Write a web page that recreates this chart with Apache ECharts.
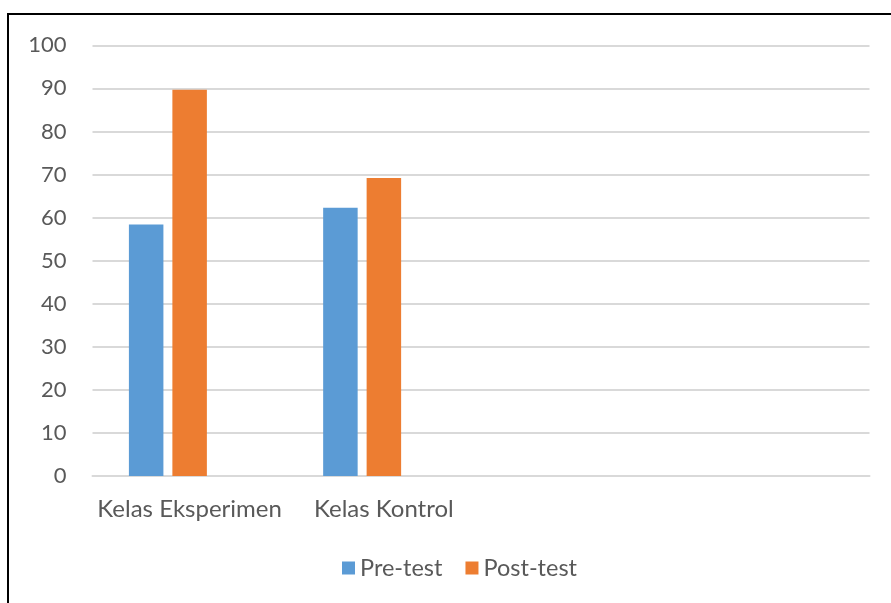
<!DOCTYPE html>
<html>
<head>
<meta charset="utf-8">
<style>
  html, body { margin: 0; padding: 0; background: #ffffff; }
  #chart { width: 891px; height: 603px; }
</style>
<script src="https://cdn.jsdelivr.net/npm/echarts@6/dist/echarts.min.js"></script>
</head>
<body>
<div id="chart"></div>
<script>
// Category names (the last two slots are unused in the workbook)
const categories = ['Kelas Eksperimen', 'Kelas Kontrol', '', ''];
// Mean scores per class
const preTest = [58.4, 62.3, '-', '-'];
const postTest = [89.7, 69.2, '-', '-'];
// Third, empty series kept from the source spreadsheet
const series3 = ['-', '-', '-', '-'];
// Value axis ticks
const yMin = 0, yMax = 100, yStep = 10;

const textColor = '#595959';
const gridColor = '#d9d9d9';
const fontFamily = 'Lato, "Open Sans", sans-serif';

const chart = echarts.init(document.getElementById('chart'), null, { renderer: 'canvas' });

chart.setOption({
  backgroundColor: '#ffffff',
  animation: false,
  textStyle: { fontFamily: fontFamily },
  graphic: [
    {
      type: 'rect',
      shape: { x: 8, y: 14, width: 1000, height: 700 },
      style: { fill: null, stroke: '#000000', lineWidth: 2 },
      silent: true,
      z: 100
    }
  ],
  grid: {
    left: 92.5,
    right: 21.5,
    top: 45.3,
    bottom: 127,
    containLabel: false
  },
  legend: {
    data: ['Pre-test', 'Post-test'],
    left: 337,
    top: 551,
    icon: 'rect',
    itemWidth: 13,
    itemHeight: 13,
    itemGap: 23,
    textStyle: { color: textColor, fontSize: 23.5, fontFamily: fontFamily }
  },
  xAxis: {
    type: 'category',
    data: categories,
    axisLine: { show: true, lineStyle: { color: gridColor, width: 2 } },
    axisTick: { show: false },
    axisLabel: {
      color: textColor,
      fontSize: 24,
      margin: 21,
      interval: 0,
      fontFamily: fontFamily
    }
  },
  yAxis: {
    type: 'value',
    min: yMin,
    max: yMax,
    interval: yStep,
    axisLine: { show: false },
    axisTick: { show: false },
    splitLine: { lineStyle: { color: gridColor, width: 2 } },
    axisLabel: {
      color: textColor,
      fontSize: 22,
      margin: 26,
      fontFamily: fontFamily
    }
  },
  series: [
    {
      name: 'Pre-test',
      type: 'bar',
      data: preTest,
      barWidth: 34.5,
      barGap: '26%',
      itemStyle: { color: '#5b9bd5' }
    },
    {
      name: 'Post-test',
      type: 'bar',
      data: postTest,
      barWidth: 34.5,
      barGap: '26%',
      itemStyle: { color: '#ed7d31' }
    },
    {
      name: 'Series3',
      type: 'bar',
      data: series3,
      barWidth: 34.5,
      barGap: '26%',
      itemStyle: { color: '#a5a5a5' }
    }
  ]
});
</script>
</body>
</html>
